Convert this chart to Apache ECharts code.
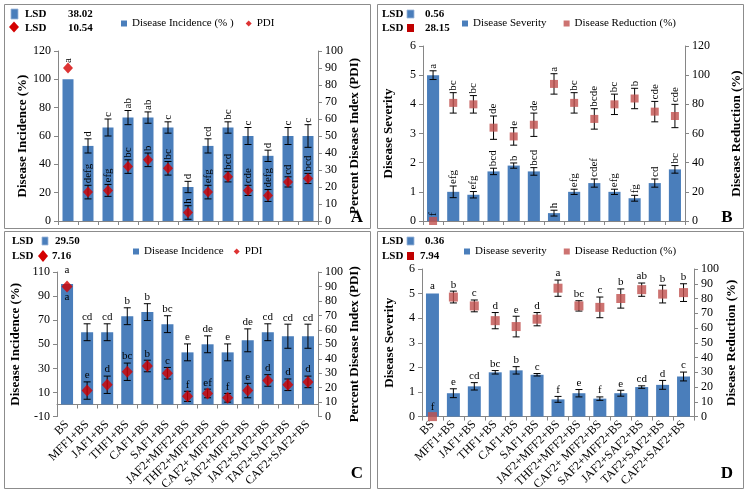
<!DOCTYPE html>
<html>
<head>
<meta charset="utf-8">
<script src="https://cdn.jsdelivr.net/npm/echarts@6/dist/echarts.min.js"></script>
<style>html,body{margin:0;padding:0;background:#fff}#c{width:750px;height:493px}</style>
</head>
<body>
<div id="c"></div>
<script>
// ---------- data ----------
const categories = ['BS','MFF1+BS','JAF1+BS','THF1+BS','CAF1+BS','SAF1+BS','JAF2+MFF2+BS','THF2+MFF2+BS','CAF2+ MFF2+BS','SAF2+MFF2+BS','JAF2+SAF2+BS','TAF2+SAF2+BS','CAF2+SAF2+BS'];

// Panel A
const aIncidence = [100,53,66,73,73,66,24,53,66,60,46,60,60];
const aIncidenceErr = [0,5,6,5,4,4,4,5,4,6,4,6,8];
const aIncidenceLetters = ['','d','c','ab','ab','c','d','cd','bc','c','d','c','c'];
const aPdi = [90,17,18,32,36,31,5,17,26,18,15,23,25];
const aPdiErr = [0,4,3.5,4,4,4,4,4,3,3,3.5,3,3];
const aPdiLetters = ['a','defg','efg','bc','b','bc','h','efg','bcd','cde','defg','cd','bcd'];
const aLsd = ['38.02','10.54'];
const aLeftTicks = [0,120,20];
const aRightTicks = [0,100,10];

// Panel B
const bSeverity = [5.0,1.0,0.9,1.7,1.9,1.7,0.27,1.0,1.3,1.0,0.78,1.3,1.77];
const bSeverityErr = [0.15,0.2,0.11,0.11,0.09,0.13,0.1,0.09,0.14,0.09,0.1,0.14,0.13];
const bSeverityLetters = ['a','efg','efg','bcd','b','bcd','h','efg','cdef','efg','fg','cd','bc'];
const bReduction = [0,81,80,64,58,66,94,81,70,80,84,75,72];
const bReductionErr = [0,7,6,8,6,8,7,7,7,7,7,7,8];
const bReductionLetters = ['f','bc','bc','de','e','de','a','bc','bcde','bc','b','cde','cde'];
const bLsd = ['0.56','28.15'];
const bLeftTicks = [0,6,1];
const bRightTicks = [0,120,20];

// Panel C
const cIncidence = [100,60,60,73.3,76.7,66.7,43.3,50,43.3,53.3,60,56.7,56.7];
const cIncidenceErr = [0,7,7,7,7,7,7,7,7,9.5,7,10,10];
const cIncidenceLetters = ['a','cd','cd','b','b','bc','e','de','e','de','cd','cd','cd'];
const cPdi = [90,18,22,31,35,30,14,16,13,18,25,22,24];
const cPdiErr = [0,6,6,6,4,4,3.5,3,3,5,4,4,4];
const cPdiLetters = ['a','e','d','bc','b','c','f','ef','f','e','d','d','d'];
const cLsd = ['29.50','7.16'];
const cLeftTicks = [-10,110,20];
const cRightTicks = [0,100,10];

// Panel D
const dSeverity = [5.0,0.95,1.23,1.8,1.88,1.7,0.7,0.95,0.73,0.95,1.2,1.29,1.63];
const dSeverityErr = [0,0.18,0.15,0.07,0.15,0.05,0.12,0.15,0.07,0.12,0.05,0.18,0.18];
const dSeverityLetters = ['a','e','cd','bc','b','c','f','e','f','e','cd','d','c'];
const dReduction = [0,81,75,65,61,66,87,75,74,80,86,83,84];
const dReductionErr = [0,4,4,5.5,7,4.5,5.5,3.5,7,6.5,4.5,6,6];
const dReductionLetters = ['f','b','c','d','e','d','a','bc','c','b','ab','b','b'];
const dLsd = ['0.36','7.94'];
const dLeftTicks = [0,6,1];
const dRightTicks = [0,100,10];

// ---------- styles ----------
const FONT = '"Liberation Serif", serif';
const BLUE = '#4A7EBB';
const DIAMOND_RED = '#D40000';
const SQUARE_RED = '#C0504D';
const AXIS_GRAY = '#868686';

function yAx(grid, ticks, pos, name, gap) {
  return {
    type: 'value', gridIndex: grid, min: ticks[0], max: ticks[1], interval: ticks[2], position: pos,
    name: name, nameLocation: 'middle', nameGap: gap, nameRotate: 90,
    nameTextStyle: {fontFamily: FONT, fontWeight: 'bold', fontSize: 13, color: '#000'},
    axisLine: {show: true, onZero: false, lineStyle: {color: AXIS_GRAY}},
    axisTick: {show: true, length: 4, lineStyle: {color: AXIS_GRAY}},
    axisLabel: {fontFamily: FONT, fontSize: 12, color: '#000', margin: 7},
    splitLine: {show: false}
  };
}
function xAx(grid, showLabels, onZeroIdx) {
  const ax = {
    type: 'category', gridIndex: grid, data: categories,
    axisLine: {show: true, onZero: onZeroIdx !== undefined, lineStyle: {color: AXIS_GRAY}},
    axisTick: {show: true, length: 4, lineStyle: {color: AXIS_GRAY}},
    axisLabel: {show: showLabels, rotate: 45, interval: 0, fontFamily: FONT, fontSize: 12, color: '#000', margin: 6},
    splitLine: {show: false}
  };
  if (onZeroIdx !== undefined) ax.axisLine.onZeroAxisIndex = onZeroIdx;
  return ax;
}

function errSeries(xi, yi, vals, errs, letters, cfg) {
  return {
    type: 'custom', xAxisIndex: xi, yAxisIndex: yi, z: 4, silent: true,
    data: vals.map((v, i) => [i, v]),
    encode: {x: 0, y: 1},
    renderItem: function (params, api) {
      const i = params.dataIndex;
      const v = vals[i], e = errs[i];
      const c = api.coord([i, v]);
      const t = api.coord([i, v + e]);
      const b = api.coord([i, v - e]);
      const cap = 3.5;
      const st = {stroke: '#000', lineWidth: 1};
      const ch = [];
      if (e > 0) {
        ch.push({type: 'line', shape: {x1: t[0], y1: t[1], x2: b[0], y2: b[1]}, style: st});
        ch.push({type: 'line', shape: {x1: t[0] - cap, y1: t[1], x2: t[0] + cap, y2: t[1]}, style: st});
        ch.push({type: 'line', shape: {x1: b[0] - cap, y1: b[1], x2: b[0] + cap, y2: b[1]}, style: st});
      }
      const lab = letters[i];
      if (lab) {
        let y = (e > 0 ? t[1] - cfg.gap : c[1] - cfg.zeroGap);
        const font = '11px ' + FONT;
        if (cfg.belowIfZero && e === 0) {
          ch.push({type: 'text', x: c[0], y: c[1] + 5, style: {text: lab, font: font, fill: '#000', align: 'center', verticalAlign: 'top'}});
        } else if (cfg.rotate) {
          ch.push({type: 'text', x: c[0], y: y, rotation: Math.PI / 2, style: {text: lab, font: font, fill: '#000', align: 'left', verticalAlign: 'middle'}});
        } else {
          ch.push({type: 'text', x: c[0], y: y, style: {text: lab, font: font, fill: '#000', align: 'center', verticalAlign: 'bottom'}});
        }
      }
      return {type: 'group', children: ch};
    }
  };
}

// ---------- graphics ----------
const g = [];
function frame(x, y, w, h) {
  g.push({type: 'rect', shape: {x: x + 0.5, y: y + 0.5, width: w, height: h}, style: {fill: 'none', stroke: '#8c8c8c', lineWidth: 1}, silent: true});
}
function txt(x, y, s, opt) {
  g.push({type: 'text', x: x, y: y, style: Object.assign({text: s, font: 'bold 11px ' + FONT, fill: '#000', verticalAlign: 'middle', align: 'left'}, opt || {}), silent: true});
}
function sq(x, y, w, h, color) {
  g.push({type: 'rect', shape: {x: x, y: y, width: w, height: h}, style: {fill: color, stroke: '#9db6d9', lineWidth: 0.8}, silent: true});
}
function sqr(x, y, w, h, color) {
  g.push({type: 'rect', shape: {x: x, y: y, width: w, height: h}, style: {fill: color}, silent: true});
}
function dia(cx, cy, w, h, color) {
  g.push({type: 'polygon', shape: {points: [[cx, cy - h / 2], [cx + w / 2, cy], [cx, cy + h / 2], [cx - w / 2, cy]]}, style: {fill: color}, silent: true});
}
frame(4, 4, 366, 224);
frame(377, 4, 366, 224);
frame(4, 231, 366, 257);
frame(377, 231, 366, 257);

// Panel A LSD
sq(11, 9, 7, 10, BLUE); txt(25, 14, 'LSD'); txt(68, 14, aLsd[0]);
dia(14, 27, 10, 11, DIAMOND_RED); txt(25, 28, 'LSD'); txt(68, 28, aLsd[1]);
// Panel B LSD
txt(382, 14, 'LSD'); sq(407, 10, 7, 8, BLUE); txt(425, 14, bLsd[0]);
txt(382, 28, 'LSD'); sqr(407, 24, 7, 8, '#C00000'); txt(425, 28, bLsd[1]);
// Panel C LSD
txt(12, 241, 'LSD'); sq(42, 237, 6, 8, BLUE); txt(55, 241, cLsd[0]);
txt(12, 256, 'LSD'); dia(43, 256, 10, 12, DIAMOND_RED); txt(52, 256, cLsd[1]);
// Panel D LSD
txt(382, 241, 'LSD'); sq(407, 237, 7, 8, BLUE); txt(425, 241, dLsd[0]);
txt(382, 256, 'LSD'); sqr(407, 252, 7, 8, '#C00000'); txt(420, 256, dLsd[1]);

// Panel letters
const pl = {font: 'bold 17px ' + FONT, align: 'center'};
txt(357, 218, 'A', pl);
txt(727, 218, 'B', pl);
txt(357, 474, 'C', pl);
txt(727, 474, 'D', pl);

const legendText = {fontFamily: FONT, fontSize: 11, color: '#000'};

const option = {
  animation: false,
  backgroundColor: '#fff',
  textStyle: {fontFamily: FONT},
  grid: [
    {left: 58, top: 51, width: 260, height: 170},
    {left: 423, top: 46, width: 262, height: 175},
    {left: 57, top: 272, width: 261, height: 156},
    {left: 422, top: 269, width: 272, height: 152}
  ],
  legend: [
    {left: 116, top: 13, itemWidth: 6, itemHeight: 6, itemGap: 12, textStyle: legendText,
      data: [{name: 'Disease Incidence (% )', icon: 'rect'}, {name: 'PDI', icon: 'diamond'}]},
    {left: 457, top: 13, itemWidth: 6, itemHeight: 6, itemGap: 17, textStyle: legendText,
      data: [{name: 'Disease Severity', icon: 'rect'}, {name: 'Disease Reduction (%)', icon: 'rect'}]},
    {left: 128, top: 241, itemWidth: 6, itemHeight: 6, itemGap: 10, textStyle: legendText,
      data: [{name: 'Disease Incidence', icon: 'rect'}, {name: 'PDI', icon: 'diamond'}]},
    {left: 459, top: 241, itemWidth: 6, itemHeight: 6, itemGap: 17, textStyle: legendText,
      data: [{name: 'Disease severity', icon: 'rect'}, {name: 'Disease Reduction (%)', icon: 'rect'}]}
  ],
  xAxis: [xAx(0, false), xAx(1, false), xAx(2, true, 4), xAx(3, true)],
  yAxis: [
    yAx(0, aLeftTicks, 'left', 'Disease Incidence (%)', 27),
    yAx(0, aRightTicks, 'right', 'Percent Disease Index (PDI)', 30),
    yAx(1, bLeftTicks, 'left', 'Disease Severity', 28),
    yAx(1, bRightTicks, 'right', 'Disease Reduction (%)', 45),
    yAx(2, cLeftTicks, 'left', 'Disease Incidence (%)', 35),
    yAx(2, cRightTicks, 'right', 'Percent Disease Index (PDI)', 30),
    yAx(3, dLeftTicks, 'left', 'Disease Severity', 26),
    yAx(3, dRightTicks, 'right', 'Disease Reduction (%)', 31)
  ],
  graphic: g,
  series: [
    // A
    {type: 'bar', name: 'Disease Incidence (% )', xAxisIndex: 0, yAxisIndex: 0, data: aIncidence, barWidth: '55%', itemStyle: {color: BLUE}},
    errSeries(0, 0, aIncidence, aIncidenceErr, aIncidenceLetters, {rotate: true, gap: 2, zeroGap: 2}),
    errSeries(0, 1, aPdi, aPdiErr, aPdiLetters, {rotate: true, gap: 2, zeroGap: 5}),
    {type: 'scatter', name: 'PDI', xAxisIndex: 0, yAxisIndex: 1, data: aPdi, symbol: 'diamond', symbolSize: [10, 11], itemStyle: {color: DIAMOND_RED}, z: 5},
    // B
    {type: 'bar', name: 'Disease Severity', xAxisIndex: 1, yAxisIndex: 2, data: bSeverity, barWidth: '60%', itemStyle: {color: BLUE}},
    errSeries(1, 2, bSeverity, bSeverityErr, bSeverityLetters, {rotate: true, gap: 2, zeroGap: 2}),
    errSeries(1, 3, bReduction, bReductionErr, bReductionLetters, {rotate: true, gap: 2, zeroGap: 5}),
    {type: 'scatter', name: 'Disease Reduction (%)', xAxisIndex: 1, yAxisIndex: 3, data: bReduction, symbol: 'rect', symbolSize: 8, itemStyle: {color: SQUARE_RED}, z: 5},
    // C
    {type: 'bar', name: 'Disease Incidence', xAxisIndex: 2, yAxisIndex: 4, data: cIncidence, barWidth: '60%', itemStyle: {color: BLUE}},
    errSeries(2, 4, cIncidence, cIncidenceErr, cIncidenceLetters, {rotate: false, gap: 1, zeroGap: 8}),
    errSeries(2, 5, cPdi, cPdiErr, cPdiLetters, {rotate: false, gap: 1, zeroGap: 5, belowIfZero: true}),
    {type: 'scatter', name: 'PDI', xAxisIndex: 2, yAxisIndex: 5, data: cPdi, symbol: 'diamond', symbolSize: [11, 12], itemStyle: {color: DIAMOND_RED}, z: 5},
    // D
    {type: 'bar', name: 'Disease severity', xAxisIndex: 3, yAxisIndex: 6, data: dSeverity, barWidth: '62%', itemStyle: {color: BLUE}},
    errSeries(3, 6, dSeverity, dSeverityErr, dSeverityLetters, {rotate: false, gap: 1, zeroGap: 2}),
    errSeries(3, 7, dReduction, dReductionErr, dReductionLetters, {rotate: false, gap: 1, zeroGap: 4}),
    {type: 'scatter', name: 'Disease Reduction (%)', xAxisIndex: 3, yAxisIndex: 7, data: dReduction, symbol: 'rect', symbolSize: 9, itemStyle: {color: SQUARE_RED}, z: 5}
  ]
};

const chart = echarts.init(document.getElementById('c'), null, {renderer: 'canvas'});
chart.setOption(option);
</script>
</body>
</html>
